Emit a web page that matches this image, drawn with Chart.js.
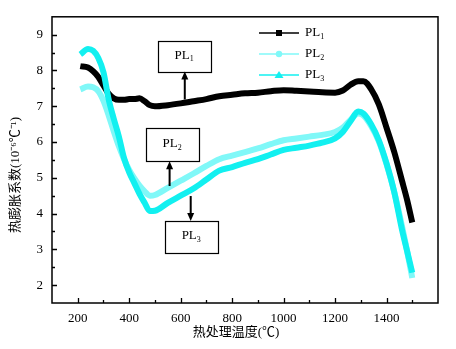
<!DOCTYPE html>
<html>
<head>
<meta charset="utf-8">
<script src="https://cdn.jsdelivr.net/npm/chart.js@4.4.1/dist/chart.umd.min.js"></script>
<style>
  html, body { margin: 0; padding: 0; background: #fff; }
  #wrap { width: 456px; height: 349px; }
</style>
</head>
<body>
<div id="wrap"><canvas id="cte"></canvas></div>
<script>
// heat-treatment temperature (℃) shared by the three samples
var temps = [210, 240, 260, 280, 300, 320, 340, 360, 380, 400, 420, 440, 460, 480, 500,
  550, 600, 650, 700, 750, 800, 850, 900, 950, 1000, 1050, 1100, 1150, 1200,
  1230, 1260, 1290, 1310, 1340, 1370, 1400, 1430, 1460, 1480, 1500];

// thermal expansion coefficient, 10^-6 ℃^-1
var pl1 = [8.12, 8.08, 7.98, 7.82, 7.58, 7.35, 7.22, 7.18, 7.18, 7.2, 7.2, 7.22, 7.14, 7.03, 7.0,
  7.03, 7.08, 7.14, 7.2, 7.28, 7.32, 7.36, 7.38, 7.42, 7.45, 7.43, 7.41, 7.39, 7.38,
  7.44, 7.6, 7.7, 7.7, 7.48, 7.05, 6.4, 5.72, 4.92, 4.38, 3.75];
var pl2 = [7.47, 7.55, 7.53, 7.42, 7.15, 6.75, 6.3, 5.88, 5.52, 5.22, 4.98, 4.78, 4.62, 4.5, 4.52,
  4.72, 4.92, 5.12, 5.33, 5.52, 5.62, 5.72, 5.82, 5.94, 6.05, 6.1, 6.15, 6.2, 6.28,
  6.4, 6.62, 6.8, 6.74, 6.45, 6.02, 5.38, 4.6, 3.65, 2.95, 2.2];
var pl3 = [8.45, 8.6, 8.55, 8.35, 7.95, 7.2, 6.65, 6.15, 5.55, 5.15, 4.85, 4.55, 4.3, 4.07, 4.08,
  4.3, 4.5, 4.7, 4.95, 5.2, 5.3, 5.42, 5.52, 5.65, 5.78, 5.84, 5.9, 5.98, 6.1,
  6.28, 6.58, 6.85, 6.8, 6.5, 6.05, 5.4, 4.6, 3.55, 2.95, 2.35];

var seriesNames = ['PL', 'PL', 'PL'];
var seriesSubs = ['1', '2', '3'];

var xTicks = [200, 400, 600, 800, 1000, 1200, 1400];
var xMinor = [300, 500, 700, 900, 1100, 1300, 1500];
var yTicks = [2, 3, 4, 5, 6, 7, 8, 9];
var yMinor = [2.5, 3.5, 4.5, 5.5, 6.5, 7.5, 8.5];

var xTitle = '热处理温度(℃)';
var yTitle = '热膨胀系数(10⁻⁶℃⁻¹)';

var colors = ['#000000', '#80F8F8', '#12F0F0'];
var markers = ['square', 'circle', 'triangle'];

// callout boxes (data coords) with arrows pointing at each curve
var callouts = [
  { sub: '1', box: [511, 716, 8.83, 7.97], arrow: [616, 7.19, 7.97] },
  { sub: '2', box: [464, 670, 6.38, 5.46], arrow: [557, 4.77, 5.46] },
  { sub: '3', box: [538, 744, 3.79, 2.9], arrow: [639, 4.49, 3.79] }
];

var SERIF = '"Liberation Serif", "Times New Roman", serif';

function points(ys) {
  var out = [];
  for (var i = 0; i < temps.length; i++) out.push({ x: temps[i], y: ys[i] });
  return out;
}

function drawSubLabel(ctx, x, y, main, sub, align) {
  ctx.save();
  ctx.fillStyle = '#000';
  ctx.textBaseline = 'middle';
  ctx.textAlign = 'left';
  ctx.font = '13px ' + SERIF;
  var w1 = ctx.measureText(main).width;
  ctx.font = '8px ' + SERIF;
  var w2 = ctx.measureText(sub).width;
  var x0 = align === 'center' ? x - (w1 + w2) / 2 : x;
  ctx.font = '13px ' + SERIF;
  ctx.fillText(main, x0, y);
  ctx.font = '8px ' + SERIF;
  ctx.fillText(sub, x0 + w1, y + 4);
  ctx.restore();
}

function drawMarker(ctx, kind, x, y, color) {
  ctx.fillStyle = color;
  ctx.beginPath();
  if (kind === 'square') {
    ctx.rect(x - 3, y - 3, 6, 6);
  } else if (kind === 'circle') {
    ctx.arc(x, y, 3.2, 0, Math.PI * 2);
  } else {
    ctx.moveTo(x, y - 4);
    ctx.lineTo(x + 4.5, y + 3);
    ctx.lineTo(x - 4.5, y + 3);
    ctx.closePath();
  }
  ctx.fill();
}

function drawArrow(ctx, x, y1, y2) {
  var dir = y2 < y1 ? -1 : 1;
  ctx.strokeStyle = '#000';
  ctx.fillStyle = '#000';
  ctx.lineWidth = 2;
  ctx.beginPath();
  ctx.moveTo(x, y1);
  ctx.lineTo(x, y2 - dir * 6);
  ctx.stroke();
  ctx.beginPath();
  ctx.moveTo(x, y2);
  ctx.lineTo(x - 3.5, y2 - dir * 8);
  ctx.lineTo(x + 3.5, y2 - dir * 8);
  ctx.closePath();
  ctx.fill();
}

var decorations = {
  id: 'decorations',
  afterDatasetsDraw: function (chart) {
    var ctx = chart.ctx;
    var a = chart.chartArea;
    var xs = chart.scales.x;
    var ys = chart.scales.y;

    ctx.save();
    // frame
    ctx.strokeStyle = '#000';
    ctx.lineWidth = 1.5;
    ctx.strokeRect(a.left, a.top, a.right - a.left, a.bottom - a.top);

    // inward ticks
    ctx.lineWidth = 1.3;
    ctx.beginPath();
    xTicks.forEach(function (v) {
      var px = Math.round(xs.getPixelForValue(v)) + 0.5;
      ctx.moveTo(px, a.bottom); ctx.lineTo(px, a.bottom - 5);
    });
    xMinor.forEach(function (v) {
      var px = Math.round(xs.getPixelForValue(v)) + 0.5;
      ctx.moveTo(px, a.bottom); ctx.lineTo(px, a.bottom - 3);
    });
    yTicks.forEach(function (v) {
      var py = Math.round(ys.getPixelForValue(v)) + 0.5;
      ctx.moveTo(a.left, py); ctx.lineTo(a.left + 5, py);
    });
    yMinor.forEach(function (v) {
      var py = Math.round(ys.getPixelForValue(v)) + 0.5;
      ctx.moveTo(a.left, py); ctx.lineTo(a.left + 3, py);
    });
    ctx.stroke();

    // legend: line + marker + label
    for (var i = 0; i < seriesNames.length; i++) {
      var ly = 33 + i * 21;
      ctx.strokeStyle = colors[i];
      ctx.lineWidth = 1.5;
      ctx.beginPath();
      ctx.moveTo(259, ly); ctx.lineTo(299, ly);
      ctx.stroke();
      drawMarker(ctx, markers[i], 279, ly, colors[i]);
      drawSubLabel(ctx, 305, ly, seriesNames[i], seriesSubs[i], 'left');
    }

    // callout boxes and arrows
    callouts.forEach(function (c) {
      var l = xs.getPixelForValue(c.box[0]);
      var r = xs.getPixelForValue(c.box[1]);
      var t = ys.getPixelForValue(c.box[2]);
      var b = ys.getPixelForValue(c.box[3]);
      ctx.fillStyle = '#fff';
      ctx.fillRect(l, t, r - l, b - t);
      ctx.strokeStyle = '#000';
      ctx.lineWidth = 1.2;
      ctx.strokeRect(Math.round(l) + 0.5, Math.round(t) + 0.5, Math.round(r - l), Math.round(b - t));
      drawSubLabel(ctx, (l + r) / 2, (t + b) / 2 - 1, 'PL', c.sub, 'center');
      drawArrow(ctx, xs.getPixelForValue(c.arrow[0]),
        ys.getPixelForValue(c.arrow[1]), ys.getPixelForValue(c.arrow[2]));
    });

    // axis titles
    ctx.fillStyle = '#000';
    ctx.textAlign = 'center';
    ctx.textBaseline = 'middle';
    ctx.font = '13px ' + SERIF + ', "Noto Sans CJK SC"';
    ctx.fillText(xTitle, 236, 333);
    ctx.translate(16, 175);
    ctx.rotate(-Math.PI / 2);
    ctx.font = '13px ' + SERIF + ', "Noto Sans CJK SC"';
    ctx.fillText(yTitle, 0, 0);
    ctx.restore();
  }
};

new Chart(document.getElementById('cte'), {
  type: 'line',
  data: {
    datasets: [
      { label: 'PL1', data: points(pl1), borderColor: colors[0], order: 3 },
      { label: 'PL2', data: points(pl2), borderColor: colors[1], order: 2 },
      { label: 'PL3', data: points(pl3), borderColor: colors[2], order: 1 }
    ]
  },
  options: {
    responsive: true,
    maintainAspectRatio: false,
    animation: false,
    layout: { padding: { top: 16, right: 18, left: 0, bottom: 0 } },
    elements: {
      line: { borderWidth: 6, cubicInterpolationMode: 'monotone', borderCapStyle: 'butt', borderJoinStyle: 'round' },
      point: { radius: 0 }
    },
    plugins: {
      legend: { display: false },
      tooltip: { enabled: false }
    },
    scales: {
      x: {
        type: 'linear',
        min: 100,
        max: 1600,
        afterBuildTicks: function (s) { s.ticks = xTicks.map(function (v) { return { value: v }; }); },
        afterFit: function (s) { s.height = 46; },
        grid: { display: false, drawTicks: false },
        border: { display: false },
        ticks: {
          padding: 8, color: '#000', maxRotation: 0, font: { family: SERIF, size: 13 },
          callback: function (v) { return String(v); }
        }
      },
      y: {
        min: 1.5,
        max: 9.5,
        afterBuildTicks: function (s) { s.ticks = yTicks.map(function (v) { return { value: v }; }); },
        afterFit: function (s) { s.width = 52; },
        grid: { display: false, drawTicks: false },
        border: { display: false },
        ticks: {
          padding: 9, color: '#000', font: { family: SERIF, size: 13 },
          callback: function (v) { return String(v); }
        }
      }
    }
  },
  plugins: [decorations]
});
</script>
</body>
</html>
